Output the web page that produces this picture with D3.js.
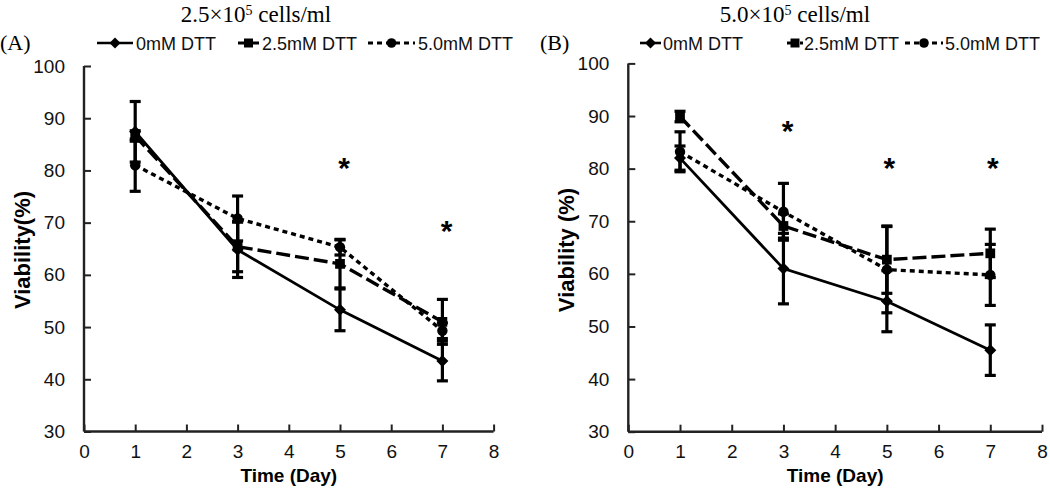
<!DOCTYPE html>
<html><head><meta charset="utf-8">
<script src="https://cdn.jsdelivr.net/npm/d3@7/dist/d3.min.js"></script>
<style>body{margin:0;background:#fff}svg{display:block}</style>
</head><body>
<svg id="c" width="1050" height="492"></svg>
<script>
// ---- data ----
const days = [1, 3, 5, 7];
const seriesNames = ["0mM DTT", "2.5mM DTT", "5.0mM DTT"];
const xTicks = [0, 1, 2, 3, 4, 5, 6, 7, 8];
const yTicks = [30, 40, 50, 60, 70, 80, 90, 100];

// Panel A: 2.5x10^5 cells/ml
const A_0mM   = [87.4, 64.8, 53.3, 43.5];
const A_0mMerr   = [5.8, 5.3, 4.0, 3.8];
const A_25mM  = [86.6, 65.4, 62.1, 51.0];
const A_25mMerr  = [1.0, 4.8, 4.6, 4.3];
const A_50mM  = [81.0, 70.8, 65.3, 49.3];
const A_50mMerr  = [5.0, 4.3, 1.5, 1.5];
const A_starDays = [5.08, 7.08];
const A_starVals = [81.0, 68.9];

// Panel B: 5.0x10^5 cells/ml
const B_0mM   = [82.0, 61.0, 54.8, 45.5];
const B_0mMerr   = [2.3, 6.7, 5.8, 4.8];
const B_25mM  = [89.9, 69.1, 62.7, 63.9];
const B_25mMerr  = [1.0, 2.3, 6.4, 4.6];
const B_50mM  = [83.2, 71.8, 60.8, 59.8];
const B_50mMerr  = [3.8, 5.4, 8.2, 5.8];
const B_starDays = [3.08, 5.05, 7.05];
const B_starVals = [87.7, 80.7, 80.7];

const svg = d3.select("#c");
const styles = [
  {dash: null, sym: d3.symbolSquare, size: 72, rot: 45},
  {dash: "14,5", sym: d3.symbolSquare, size: 95, rot: 0},
  {dash: "5,4", sym: d3.symbolCircle, size: 85, rot: 0}
];
const FONT = "Liberation Sans, Arial, sans-serif";

function panel(cfg) {
  const g = svg.append("g");
  const x = d3.scaleLinear().domain([0, 8]).range(cfg.xr);
  const y = d3.scaleLinear().domain([30, 100]).range(cfg.yr);

  // axes
  const ya = d3.axisLeft(y).tickValues(yTicks).tickSizeInner(-7).tickSizeOuter(0).tickPadding(19);
  const yg = g.append("g").attr("transform", `translate(${cfg.xr[0]},0)`).call(ya);
  const xa = d3.axisBottom(x).tickValues(xTicks).tickSizeInner(-7).tickSizeOuter(0).tickPadding(13);
  const xg = g.append("g").attr("transform", `translate(0,${cfg.yr[0]})`).call(xa);
  [yg, xg].forEach(a => {
    a.select(".domain").attr("stroke", "#222").attr("stroke-width", 2.4);
    a.selectAll(".tick line").attr("stroke", "#222").attr("stroke-width", 2);
    a.selectAll(".tick text").attr("font-family", FONT)
      .attr("font-size", 19).attr("fill", "#111");
  });
  yg.select(".domain").attr("d", `M0,${cfg.yr[0]}V${cfg.yr[1]}`);
  xg.select(".domain").attr("d", `M${cfg.xr[0]},0H${cfg.xr[1]}`);

  const data = cfg.series;
  // error bars
  data.forEach((s) => {
    days.forEach((d, i) => {
      const cx = x(d), lo = y(s.v[i] - s.e[i]), hi = y(s.v[i] + s.e[i]);
      g.append("line").attr("x1", cx).attr("x2", cx).attr("y1", lo).attr("y2", hi)
        .attr("stroke", "#000").attr("stroke-width", 3.2);
      [lo, hi].forEach(yy => g.append("line").attr("x1", cx - 5.5).attr("x2", cx + 5.5)
        .attr("y1", yy).attr("y2", yy).attr("stroke", "#000").attr("stroke-width", 3.2));
    });
  });
  // lines
  const line = d3.line().x((d) => x(d[0])).y((d) => y(d[1]));
  data.forEach((s, k) => {
    g.append("path").datum(days.map((d, i) => [d, s.v[i]]))
      .attr("d", line).attr("fill", "none").attr("stroke", "#000")
      .attr("stroke-width", k === 0 ? 2.8 : 3.4)
      .attr("stroke-dasharray", styles[k].dash);
  });
  // markers
  data.forEach((s, k) => {
    days.forEach((d, i) => {
      g.append("path").attr("d", d3.symbol().type(styles[k].sym).size(styles[k].size)())
        .attr("transform", `translate(${x(d)},${y(s.v[i])}) rotate(${styles[k].rot})`).attr("fill", "#000");
    });
  });
  // stars
  cfg.starDays.forEach((d, i) => {
    g.append("text").attr("x", x(d)).attr("y", y(cfg.starVals[i]) + 13)
      .attr("text-anchor", "middle").attr("font-family", FONT)
      .attr("font-weight", "bold").attr("font-size", 30).text("*");
  });
  // titles
  const t = g.append("text").attr("x", cfg.titleX).attr("y", 22).attr("text-anchor", "middle")
    .attr("font-family", "Liberation Serif, Times New Roman, serif").attr("font-size", 23);
  t.append("tspan").text(cfg.title[0] + "×10");
  t.append("tspan").attr("font-size", 14).attr("dy", -7).text("5");
  t.append("tspan").attr("dy", 7).text(" cells/ml");
  g.append("text").attr("x", cfg.labelX).attr("y", 50)
    .attr("font-family", "Liberation Serif, Times New Roman, serif").attr("font-size", 22).text(cfg.label);
  // axis titles
  g.append("text").attr("x", (cfg.xr[0] + cfg.xr[1]) / 2).attr("y", 482).attr("text-anchor", "middle")
    .attr("font-family", FONT).attr("font-weight", "bold")
    .attr("font-size", 19).text("Time (Day)");
  g.append("text").attr("transform", `translate(${cfg.yTitleX},250) rotate(-90)`).attr("text-anchor", "middle")
    .attr("font-family", FONT).attr("font-weight", "bold")
    .attr("font-size", 22).text(cfg.yTitle);
  // legend
  cfg.legend.forEach((L, k) => {
    const ly = 43;
    g.append("line").attr("x1", L[0]).attr("x2", L[1]).attr("y1", ly).attr("y2", ly)
      .attr("stroke", "#000").attr("stroke-width", k === 0 ? 2.6 : 3.2)
      .attr("stroke-dasharray", k === 0 ? null : (k === 1 ? "10,3" : "5,4"));
    g.append("path").attr("d", d3.symbol().type(styles[k].sym).size(styles[k].size * 0.85)())
      .attr("transform", `translate(${(L[0] + L[1]) / 2},${ly}) rotate(${styles[k].rot})`).attr("fill", "#000");
    g.append("text").attr("x", L[2]).attr("y", ly + 7)
      .attr("font-family", FONT).attr("font-size", 18)
      .attr("fill", "#111").text(seriesNames[k]);
  });
}

panel({
  xr: [84, 493.6], yr: [431.5, 66],
  series: [{v: A_0mM, e: A_0mMerr}, {v: A_25mM, e: A_25mMerr}, {v: A_50mM, e: A_50mMerr}],
  starDays: A_starDays, starVals: A_starVals,
  title: ["2.5"], titleX: 256, label: "(A)", labelX: 0,
  yTitle: "Viability(%)", yTitleX: 30,
  legend: [[97, 133, 136], [238, 259, 262], [368, 415, 418]]
});
panel({
  xr: [628.3, 1042], yr: [431.7, 63.4],
  series: [{v: B_0mM, e: B_0mMerr}, {v: B_25mM, e: B_25mMerr}, {v: B_50mM, e: B_50mMerr}],
  starDays: B_starDays, starVals: B_starVals,
  title: ["5.0"], titleX: 795, label: "(B)", labelX: 540,
  yTitle: "Viability (%)", yTitleX: 574,
  legend: [[640, 661, 663], [787, 803, 804], [905, 943, 945]]
});
</script>
</body></html>
